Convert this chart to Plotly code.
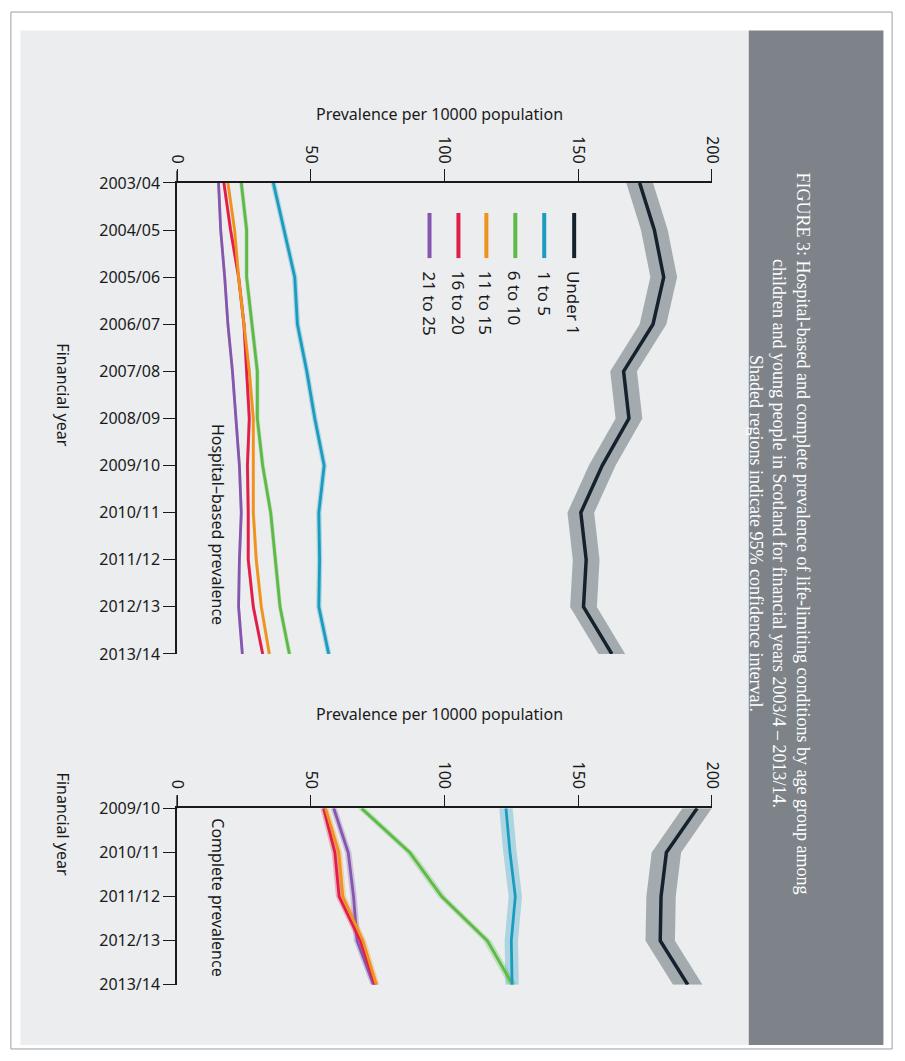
import plotly.graph_objects as go

years1 = ["2003/04","2004/05","2005/06","2006/07","2007/08","2008/09","2009/10","2010/11","2011/12","2012/13","2013/14"]
years2 = ["2009/10","2010/11","2011/12","2012/13","2013/14"]
groups = ["Under 1","1 to 5","6 to 10","11 to 15","16 to 20","21 to 25"]
colors = ["#14222e","#1a9cbf","#5dba47","#f0921e","#e11d48","#8556ad"]
band_colors = ["rgba(140,148,152,0.75)","rgba(26,156,191,0.3)","rgba(93,186,71,0.3)","rgba(240,146,30,0.3)","rgba(225,29,72,0.3)","rgba(133,86,173,0.3)"]

hosp = {
 "Under 1": [173,178.5,182,178,167,169,159,151,153,152,162.6],
 "1 to 5": [36,40,44,45,48.5,51.5,55,53,53.3,53,56.7],
 "6 to 10": [24,26,26,28,30,30,32,35,36.7,38.5,42],
 "11 to 15": [19,21.5,23,25,27,28.5,28.5,28.5,29.6,31.5,34.5],
 "16 to 20": [17.5,20,23,25,26,27,26.3,26.6,26.6,28.5,32],
 "21 to 25": [15.5,16.3,17.8,19,20.7,22,23.3,24,23.3,23,24.4],
}
hosp_ci = {"Under 1":5,"1 to 5":1.0,"6 to 10":0.8,"11 to 15":0.6,"16 to 20":0.6,"21 to 25":0.5}

comp = {
 "Under 1": [194.5,183,181,180.7,191],
 "1 to 5": [123,124.5,126.5,125,125.3],
 "6 to 10": [69,87,99,116,125.5],
 "11 to 15": [55.5,60.5,62,69.5,74.5],
 "16 to 20": [54.8,59,60.6,68.5,74],
 "21 to 25": [58.6,64,66,67.3,73.5],
}
comp_ci = {"Under 1":5.5,"1 to 5":2.5,"6 to 10":1.5,"11 to 15":1.2,"16 to 20":1.2,"21 to 25":1.2}

W, H = 905, 1061
# compensation for observed screenshot mapping
AX, BX, AY, BY = 0.978, 9.5, 0.977, 10.5
def px(x): return min(1, max(0, ((x - BX) / AX) / W))
def py(y): return 1 - min(1, max(0, ((y - BY) / AY) / H))

fig = go.Figure()

def add_panel(data, ci, n, xa, ya):
    idx = list(range(n))
    for g, c, bc in zip(groups, colors, band_colors):
        v = data[g]
        up = [a + ci[g] for a in v]
        lo = [a - ci[g] for a in v]
        fig.add_trace(go.Scatter(x=up + lo[::-1], y=idx + idx[::-1], fill="toself",
                                 fillcolor=bc, line=dict(width=0), mode="lines",
                                 xaxis=xa, yaxis=ya, hoverinfo="skip", showlegend=False))
    for g, c in zip(groups[::-1], colors[::-1]):
        fig.add_trace(go.Scatter(x=data[g], y=idx, mode="lines",
                                 line=dict(color=c, width=3.5 if g == "Under 1" else 2.8),
                                 xaxis=xa, yaxis=ya, showlegend=False, name=g))

add_panel(hosp, hosp_ci, len(years1), "x", "y")
add_panel(comp, comp_ci, len(years2), "x2", "y2")

xdom = [px(177), px(713)]
axfont = dict(family="Noto Sans", size=16, color="#1a1a1a")
xcommon = dict(range=[0, 200], domain=xdom, side="top", showline=True, linecolor="#1a1a1a",
               linewidth=1.5, ticks="outside", ticklen=12, tickcolor="#1a1a1a",
               tickvals=[0, 50, 100, 150, 200], tickangle=90, showgrid=False, zeroline=False,
               tickfont=axfont)
ycommon = dict(showline=True, linecolor="#1a1a1a", linewidth=1.5, ticks="outside", ticklen=12,
               tickcolor="#1a1a1a", showgrid=False, zeroline=False, tickfont=axfont)

fig.update_layout(
    autosize=True, margin=dict(l=0, r=0, t=0, b=0),
    paper_bgcolor="white", plot_bgcolor="rgba(0,0,0,0)",
    xaxis=dict(anchor="y", **xcommon),
    yaxis=dict(anchor="x", domain=[py(652), py(182)], range=[10, 0],
               tickvals=list(range(len(years1))), ticktext=years1, **ycommon),
    xaxis2=dict(anchor="y2", **xcommon),
    yaxis2=dict(anchor="x2", domain=[py(982), py(806)], range=[4, 0],
                tickvals=list(range(len(years2))), ticktext=years2, **ycommon),
)

shapes = [
    dict(type="rect", xref="paper", yref="paper", x0=0.001, x1=0.999, y0=0.001, y1=0.999,
         line=dict(color="#9aa0a6", width=1), fillcolor="white", layer="below"),
    dict(type="rect", xref="paper", yref="paper", x0=px(20), x1=px(750), y0=py(1042), y1=py(30),
         line=dict(width=0), fillcolor="#ebedef", layer="below"),
    dict(type="rect", xref="paper", yref="paper", x0=px(750), x1=px(885), y0=py(1042), y1=py(30),
         line=dict(width=0), fillcolor="#7d8389", layer="below"),
    dict(type="line", xref="paper", yref="paper", x0=px(177), x1=px(177), y0=py(182), y1=py(170),
         line=dict(color="#1a1a1a", width=1.5)),
    dict(type="line", xref="paper", yref="paper", x0=px(177), x1=px(177), y0=py(806), y1=py(793),
         line=dict(color="#1a1a1a", width=1.5)),
]
leg_x = [575, 545, 516, 487, 459, 430]
for g, c, lx in zip(groups, colors, leg_x):
    shapes.append(dict(type="line", xref="paper", yref="paper", x0=px(lx), x1=px(lx),
                       y0=py(212), y1=py(257), line=dict(color=c, width=4)))
fig.update_layout(shapes=shapes)

ann = []
for g, lx in zip(groups, leg_x):
    ann.append(dict(text=g, x=px(lx), y=py(268), xref="paper", yref="paper", showarrow=False,
                    textangle=90, xanchor="center", yanchor="top",
                    font=dict(family="Noto Sans", size=17, color="#1a1a1a")))
lab = dict(family="Noto Sans", size=16, color="#1a1a1a")
ann += [
    dict(text="Prevalence per 10000 population", x=px(440), y=py(100), xref="paper", yref="paper",
         showarrow=False, font=lab),
    dict(text="Prevalence per 10000 population", x=px(440), y=py(725), xref="paper", yref="paper",
         showarrow=False, font=lab),
    dict(text="Financial year", x=px(50), y=py(340), xref="paper", yref="paper",
         showarrow=False, textangle=90, font=lab),
    dict(text="Financial year", x=px(50), y=py(875), xref="paper", yref="paper",
         showarrow=False, textangle=90, font=lab),
    dict(text="Hospital–based prevalence", x=px(205), y=py(420), xref="paper", yref="paper",
         showarrow=False, textangle=90, yanchor="top", font=lab),
    dict(text="Complete prevalence", x=px(205), y=py(814), xref="paper", yref="paper",
         showarrow=False, textangle=90, yanchor="top", font=lab),
    dict(text="FIGURE 3: Hospital-based and complete prevalence of life-limiting conditions by age group among<br>"
              "children and young people in Scotland for financial years 2003/4 – 2013/14.<br>"
              "Shaded regions indicate 95% confidence interval.",
         x=px(816), y=py(532), xref="paper", yref="paper", showarrow=False, textangle=90,
         align="center", font=dict(family="Liberation Serif", size=18, color="white")),
]
fig.update_layout(annotations=ann)
post = ("document.documentElement.style.margin='0';document.body.style.margin='0';"
        "document.body.style.overflow='hidden';document.documentElement.style.overflow='hidden';"
        "var gd=document.getElementById('{plot_id}');gd.style.width='100vw';gd.style.height='100vh';"
        "Plotly.Plots.resize(gd);")
fig.write_html("out.html", config={"responsive": True, "displayModeBar": False},
               default_width="100vw", default_height="100vh", post_script=post)
